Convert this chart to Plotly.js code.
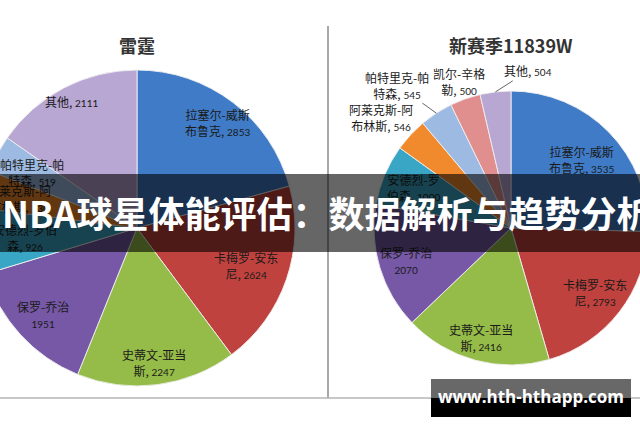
<!DOCTYPE html>
<html>
<head>
<meta charset="utf-8">
<script src="https://cdn.plot.ly/plotly-3.0.1.min.js"></script>
<style>
  html, body { margin:0; padding:0; width:640px; height:426px; overflow:hidden; background:#fff; }
  #chart { position:absolute; left:-30px; top:0; width:700px; height:426px; }
  #banner { position:absolute; left:0; top:174px; width:640px; height:78px; background:rgba(0,0,0,0.6); overflow:hidden; }
  #banner span { position:absolute; left:2px; top:16px; white-space:nowrap; color:#fff; font-family:"Noto Sans CJK SC","Noto Sans",sans-serif; font-weight:700; font-size:36px; line-height:44px; letter-spacing:0px; }
  #mark { position:absolute; left:431px; top:379px; width:200px; height:38px; background:linear-gradient(to bottom,#686868 0,#686868 50%,#000 50%,#000 100%); }
  #mark span { position:absolute; left:0; width:200px; top:7px; text-align:center; color:#fff; font-family:"Open Sans","Noto Sans",sans-serif; font-weight:700; font-size:17px; line-height:22px; }
</style>
</head>
<body>
<div id="chart"></div>
<div id="banner"><span id="bannerText"></span></div>
<div id="mark"><span id="markText"></span></div>
<script>
// ---------- data ----------
const thunderTitle = '雷霆';
const newSeasonTitle = '新赛季11839W';
const bannerTitle = 'NBA球星体能评估：数据解析与趋势分析';
const watermark = 'www.hth-hthapp.com';

const thunderPlayers = ['拉塞尔-威斯布鲁克','卡梅罗-安东尼','史蒂文-亚当斯','保罗-乔治','安德烈-罗伯森','阿莱克斯-阿布林斯','帕特里克-帕特森','其他'];
const thunderValues  = [2853, 2624, 2247, 1951, 926, 530, 519, 2111];
const thunderLabels  = ['拉塞尔-威斯<br>布鲁克','卡梅罗-安东<br>尼','史蒂文-亚当<br>斯','保罗-乔治<br>','安德烈-罗伯<br>森','阿莱克斯-阿<br>布林斯','帕特里克-帕<br>特森','其他'];

const newPlayers = ['拉塞尔-威斯布鲁克','卡梅罗-安东尼','史蒂文-亚当斯','保罗-乔治','安德烈-罗伯森','阿莱克斯-阿布林斯','帕特里克-帕特森','凯尔-辛格勒','其他'];
const newValues  = [3535, 2793, 2416, 2070, 1000, 546, 545, 500, 504];
const newLabels  = ['拉塞尔-威斯<br>布鲁克','卡梅罗-安东<br>尼','史蒂文-亚当<br>斯','保罗-乔治<br>','安德烈-罗<br>伯森','阿莱克斯-阿<br>布林斯','帕特里克-帕<br>特森','凯尔-辛格<br>勒','其他'];

// ---------- styles / layout ----------
const thunderColors = ['#3f7bc6','#c0423e','#95bb48','#7658a6','#3aa6c6','#f08a2c','#9dbbe2','#b8a6d3'];
const newColors     = ['#3f7bc6','#c0423e','#95bb48','#7658a6','#3aa6c6','#f08a2c','#9dbbe2','#e08e8e','#b8a6d3'];
// radial position of each inside label (fraction of radius)
const thunderLabelRadius = [0.84, 0.73, 0.86, 0.81, 0.71, 0.77, 0.75, 0.9];
const newLabelRadius     = [0.72, 0.77, 0.83, 0.8, 0.77];

const W = 700, H = 426, OFF = 30; // div is shifted 30px left
const leftPie  = {cx:137, cy:228, r:158};
const rightPie = {cx:511, cy:228, r:137};
const X = px => (px + OFF) / W;
const Y = py => 1 - py / H;

function domainOf(p) {
  return { x:[X(p.cx - p.r), X(p.cx + p.r)], y:[Y(p.cy + p.r), Y(p.cy - p.r)] };
}

const labelFont = {family:'"Noto Sans CJK SC", sans-serif', size:12, color:'#1a1a1a'};

function labelText(lbl, v) {
  const num = '<span style="font-family:Lato;font-size:10px">' + v + '</span>';
  return lbl.endsWith('<br>') ? lbl + num : lbl + ', ' + num;
}

function pieLabels(values, labels, geo, fracs, outside) {
  const total = values.reduce((a, b) => a + b, 0);
  const anns = [];
  let cum = 0;
  values.forEach((v, i) => {
    const mid = (cum + v / 2) / total * 2 * Math.PI;
    cum += v;
    const txt = labelText(labels[i], v);
    if (outside && outside[i]) {
      const ex = geo.cx + geo.r * Math.sin(mid);
      const ey = geo.cy - geo.r * Math.cos(mid);
      anns.push({xref:'paper', yref:'paper', x:X(ex), y:Y(ey), text:txt, font:labelFont,
        showarrow:true, arrowhead:0, arrowwidth:1, arrowcolor:'#666', standoff:0,
        axref:'pixel', ayref:'pixel', ax:outside[i][0], ay:outside[i][1], align:'center'});
    } else {
      const f = fracs[i];
      const lx = geo.cx + geo.r * f * Math.sin(mid);
      const ly = geo.cy - geo.r * f * Math.cos(mid);
      anns.push({xref:'paper', yref:'paper', x:X(lx), y:Y(ly), text:txt, font:labelFont,
        showarrow:false, xanchor:'center', yanchor:'middle', align:'center'});
    }
  });
  return anns;
}

const sliceLine = {color:'rgba(240,240,240,0.9)', width:1};

const traces = [
  {type:'pie', labels:thunderPlayers, values:thunderValues, domain:domainOf(leftPie),
   sort:false, direction:'clockwise', rotation:0, textinfo:'none', hoverinfo:'label+value',
   marker:{colors:thunderColors, line:sliceLine}, showlegend:false},
  {type:'pie', labels:newPlayers, values:newValues, domain:domainOf(rightPie),
   sort:false, direction:'clockwise', rotation:0, textinfo:'none', hoverinfo:'label+value',
   marker:{colors:newColors, line:sliceLine}, showlegend:false}
];

const outsideRight = {5:[-30,-17], 6:[-39,-28], 7:[-6,-17], 8:[33,-21]};

const annotations = []
  .concat(pieLabels(thunderValues, thunderLabels, leftPie, thunderLabelRadius, null))
  .concat(pieLabels(newValues, newLabels, rightPie, newLabelRadius, outsideRight))
  .concat([
    {xref:'paper', yref:'paper', x:X(137), y:Y(45), text:'<b>' + thunderTitle + '</b>', showarrow:false,
     font:{family:'"Noto Sans CJK SC", sans-serif', size:18, color:'#333'}, xanchor:'center', yanchor:'middle'},
    {xref:'paper', yref:'paper', x:X(511), y:Y(45), text:'<b>' + newSeasonTitle + '</b>', showarrow:false,
     font:{family:'"Noto Sans CJK SC", sans-serif', size:18, color:'#333'}, xanchor:'center', yanchor:'middle'}
  ]);

const shapes = [
  {type:'line', xref:'paper', yref:'paper', x0:X(328), x1:X(328), y0:Y(26), y1:Y(398), line:{color:'#a8a8a8', width:2}},
  {type:'line', xref:'paper', yref:'paper', x0:X(0), x1:X(640), y0:Y(398), y1:Y(398), line:{color:'#b4b4b4', width:1.5}}
];

const layout = {
  width:W, height:H, margin:{l:0, r:0, t:0, b:0},
  paper_bgcolor:'#fff', plot_bgcolor:'#fff',
  annotations:annotations, shapes:shapes, showlegend:false
};

Plotly.newPlot('chart', traces, layout, {displayModeBar:false, staticPlot:true});

document.getElementById('bannerText').textContent = bannerTitle;
document.getElementById('markText').textContent = watermark;
</script>
</body>
</html>
